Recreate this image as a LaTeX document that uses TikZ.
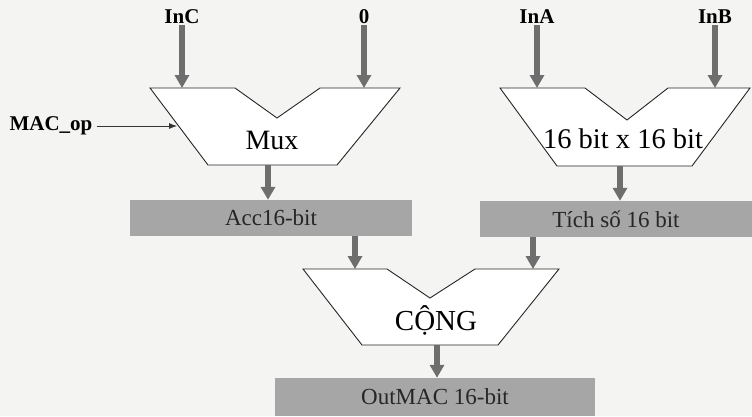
\documentclass[tikz,border=0pt]{standalone}
\usepackage{fontspec}
\setmainfont{Liberation Serif}
\usetikzlibrary{arrows.meta, positioning}
\usepackage{xcolor}
\definecolor{flowgray}{HTML}{6E6E6E}
\definecolor{boxgray}{HTML}{A6A6A6}
\definecolor{paper}{HTML}{F4F4F2}

\begin{document}
\begin{tikzpicture}[
  x=1pt, y=-1pt,
  ctl/.style={font=\bfseries\fontsize{21}{21}\selectfont, inner sep=1pt},
  unit/.style={draw=black!85, line width=0.9pt, fill=white, line join=miter},
  reg/.style={fill=boxgray, minimum height=36pt, inner sep=0pt, text=black!85, font=\fontsize{23}{23}\selectfont},
  flow/.style={draw=flowgray, line width=6pt, -{Triangle[width=14pt, length=13pt]}},
  sel/.style={draw=black!80, line width=0.8pt, -{Latex[length=8pt, width=6pt]}},
]
  \useasboundingbox[fill=paper] (0,0) rectangle (752,416);

  % input labels
  \node[ctl] (inc) at (182,17) {InC};
  \node[ctl] (zero) at (364,17) {0};
  \node[ctl] (ina) at (537,17) {InA};
  \node[ctl] (inb) at (715,17) {InB};
  \node[ctl, inner xsep=4pt] (macop) at (51,126) {MAC\_op};

  % Mux
  \draw[unit] (150,88) -- (235,88) -- (277,118) -- (320,88) -- (400,88) -- (337,165) -- (208,165) -- cycle;
  \node[font=\fontsize{28}{28}\selectfont] (mux) at (272,140) {Mux};
  \coordinate (mux-in1) at (182,88);
  \coordinate (mux-in2) at (364,88);
  \coordinate (mux-sel) at (177,126);
  \coordinate (mux-out) at (268,165);

  % Multiplier
  \draw[unit] (500,88) -- (585,88) -- (627,120) -- (668,88) -- (750,88) -- (692,166) -- (557,166) -- cycle;
  \node[font=\fontsize{28.5}{28.5}\selectfont] (mul) at (623,139) {16 bit x 16 bit};
  \coordinate (mul-in1) at (537,88);
  \coordinate (mul-in2) at (715,88);
  \coordinate (mul-out) at (620,166);

  % registers
  \node[reg, minimum width=282pt] (acc) at (271,218) {Acc16-bit};
  \node[reg, minimum width=272pt] (prod) at (616,219) {Tích số 16 bit};

  % Adder
  \draw[unit] (303,269) -- (387,269) -- (430,298) -- (475,269) -- (559,269) -- (498,345) -- (362,345) -- cycle;
  \node[font=\fontsize{29}{29}\selectfont] (add) at (436,320) {CỘNG};
  \coordinate (add-in1) at (355,269);
  \coordinate (add-in2) at (533,269);
  \coordinate (add-out) at (437,345);

  \node[reg, minimum width=320pt, minimum height=38pt] (out) at (435,397) {OutMAC 16-bit};

  \draw[flow] (inc) -- (mux-in1);
  \draw[flow] (zero) -- (mux-in2);
  \draw[flow] (ina) -- (mul-in1);
  \draw[flow] (inb) -- (mul-in2);
  \draw[sel] (macop) -- (mux-sel);
  \draw[flow] (mux-out) -- (mux-out |- acc.north);
  \draw[flow] (mul-out) -- (mul-out |- prod.north);
  \draw[flow] (acc.south -| add-in1) -- (add-in1);
  \draw[flow] (prod.south -| add-in2) -- (add-in2);
  \draw[flow] (add-out) -- (add-out |- out.north);
\end{tikzpicture}
\end{document}
